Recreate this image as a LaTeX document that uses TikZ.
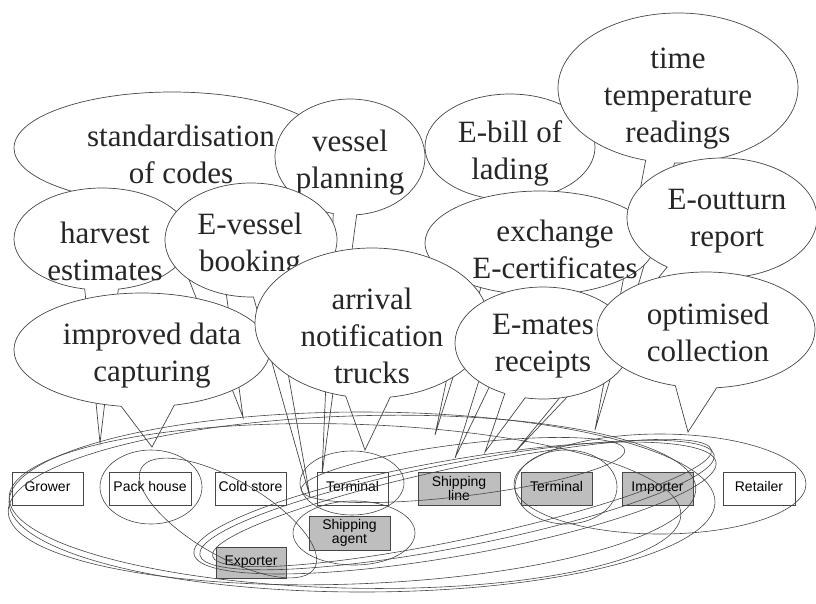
\documentclass[tikz,border=0pt]{standalone}
\usepackage{fontspec}
\setmainfont{Liberation Serif}
\newfontfamily\boxfont{Liberation Sans}
\usetikzlibrary{shapes.callouts}
\definecolor{ln}{RGB}{70,70,70}
\definecolor{boxgray}{RGB}{190,190,190}
\tikzset{
 bubble/.style={ellipse callout, draw=ln, line width=0.7pt, fill=white, inner sep=0pt, outer sep=0pt},
 btext/.style={align=center, font=\fontsize{31}{37}\selectfont, inner sep=0pt, text=black!85},
 twoline/.style={draw=ln, line width=0.7pt, fill=white, minimum width=71pt, minimum height=33pt, inner sep=0pt, align=center, font=\boxfont\fontsize{14}{14.5}\selectfont},
 stage/.style={twoline, execute at begin node=\strut},
 actor/.style={stage, fill=boxgray},
 actortwo/.style={twoline, fill=boxgray},
 ring/.style={draw=ln, line width=0.6pt},
}
\begin{document}
\begin{tikzpicture}[x=1pt,y=-1pt]
\useasboundingbox (0,0) rectangle (816,603);

% callouts, back to front
\node[bubble, minimum width=316pt, minimum height=112pt, callout absolute pointer={(243,417)}, callout pointer arc=20] (b1) at (172,148) {};
\node[btext] (t1) at (181,154) {standardisation\\of codes};

\node[bubble, minimum width=150pt, minimum height=116pt, callout absolute pointer={(322,475)}, callout pointer arc=18] (b2) at (350,157) {};
\node[btext] (t2) at (350,163) {vessel\\planning};

\node[bubble, minimum width=170pt, minimum height=106pt, callout absolute pointer={(435,435)}, callout pointer arc=16] (b3) at (510,147) {};
\node[btext] (t3) at (510,153) {E-bill of\\lading};

\node[bubble, minimum width=240pt, minimum height=150pt, callout absolute pointer={(595,430)}, callout pointer arc=14] (b4) at (678,88) {};
\node[btext] (t4) at (678,99) {time\\temperature\\readings};

\node[bubble, minimum width=230pt, minimum height=104pt, callout absolute pointer={(455,458)}, callout pointer arc=14] (b5) at (540,243) {};
\node[btext] (t5) at (555,249) {exchange\\E-certificates};

\node[bubble, minimum width=176pt, minimum height=102pt, callout absolute pointer={(100,443)}, callout pointer arc=22] (b6) at (102,239) {};
\node[btext] (t6) at (105,251) {harvest\\estimates};

\node[bubble, minimum width=172pt, minimum height=114pt, callout absolute pointer={(310,497)}, callout pointer arc=14] (b7) at (251,240) {};
\node[btext] (t7) at (250,246) {E-vessel\\booking};

\node[bubble, minimum width=256pt, minimum height=114pt, callout absolute pointer={(152,447)}, callout pointer arc=24] (b8) at (142,350) {};
\node[btext] (t8) at (152,356) {improved data\\capturing};

\node[bubble, minimum width=234pt, minimum height=150pt, callout absolute pointer={(365,450)}, callout pointer arc=22] (b9) at (372,323) {};
\node[btext] (t9) at (372,336) {arrival\\notification\\trucks};

\node[bubble, minimum width=190pt, minimum height=120pt, callout absolute pointer={(515,452)}, callout pointer arc=12] (b10) at (722,218) {};
\node[btext] (t10) at (727,221) {E-outturn\\report};

\node[bubble, minimum width=176pt, minimum height=112pt, callout absolute pointer={(485,452)}, callout pointer arc=14] (b11) at (543,343) {};
\node[btext] (t11) at (543,346) {E-mates\\receipts};

\node[bubble, minimum width=218pt, minimum height=116pt, callout absolute pointer={(688,432)}, callout pointer arc=22] (b12) at (706,330) {};
\node[btext] (t12) at (708,332) {optimised\\collection};

% chain stages
\node[stage] (grower) at (47.5,488.5) {Grower};
\node[stage, minimum width=82pt] (pack) at (150,488.5) {Pack house};
\node[stage] (cold) at (250.5,488.5) {Cold store};
\node[stage] (term1) at (352.5,488.5) {Terminal};
\node[actortwo, minimum width=81pt, minimum height=34pt] (agent) at (349.5,533) {Shipping\\agent};
\node[actor, minimum width=70pt, minimum height=31pt] (exporter) at (251,562.5) {Exporter};
\node[actortwo, minimum width=82pt] (line) at (459,488.5) {Shipping\\line};
\node[actor] (term2) at (556.5,488.5) {Terminal};
\node[actor] (importer) at (657.5,488.5) {Importer};
\node[stage, minimum width=72pt] (retailer) at (759,488.5) {Retailer};

% grouping rings
\draw[ring] (151,487) ellipse [x radius=51, y radius=37];
\draw[ring] (352,483) ellipse [x radius=52, y radius=32];
\draw[ring] (354,533) ellipse [x radius=61, y radius=32];
\draw[ring, rotate around={-30:(228,518)}] (228,518) ellipse [x radius=100, y radius=38];
\draw[ring] (566,487) ellipse [x radius=51, y radius=37];
\draw[ring] (660,484) ellipse [x radius=146, y radius=50];
\draw[ring] (362,502) ellipse [x radius=353, y radius=90];
\draw[ring, rotate around={2:(352,500)}] (352,500) ellipse [x radius=344, y radius=84];
\draw[ring, rotate around={-1.5:(345,506)}] (345,506) ellipse [x radius=336, y radius=82];
\draw[ring, rotate around={11:(457,505)}] (457,505) ellipse [x radius=262, y radius=42];
\draw[ring, rotate around={10:(455,508)}] (455,508) ellipse [x radius=265, y radius=48];
\draw[ring, rotate around={12:(462,503)}] (462,503) ellipse [x radius=255, y radius=36];
\draw[ring, rotate around={7:(463,470)}] (463,470) ellipse [x radius=163, y radius=26];
\end{tikzpicture}
\end{document}
